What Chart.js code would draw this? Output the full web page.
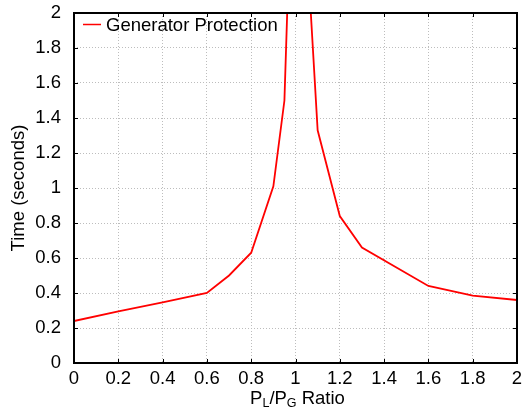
<!DOCTYPE html>
<html>
<head>
<meta charset="utf-8">
<script src="https://cdn.jsdelivr.net/npm/chart.js@4/dist/chart.umd.min.js"></script>
<style>
html,body{margin:0;padding:0;background:#fff;}
#wrap{width:524px;height:409px;position:relative;}
</style>
</head>
<body>
<div id="wrap"><canvas id="c" width="524" height="409"></canvas></div>
<script>
const ratioValues = [0, 0.2, 0.4, 0.6, 0.7, 0.8, 0.9, 0.95, 1.0, 1.1, 1.2, 1.3, 1.6, 1.8, 2.0];
const timeValues  = [0.24, 0.295, 0.347, 0.4, 0.5, 0.63, 1.01, 1.5, 3.5, 1.33, 0.84, 0.66, 0.44, 0.385, 0.36];
const seriesName = 'Generator Protection';
const xTickValues = [0, 0.2, 0.4, 0.6, 0.8, 1, 1.2, 1.4, 1.6, 1.8, 2];
const yTickValues = [0, 0.2, 0.4, 0.6, 0.8, 1, 1.2, 1.4, 1.6, 1.8, 2];
const yTitle = 'Time (seconds)';
const xTitleParts = [['P', false], ['L', true], ['/P', false], ['G', true], [' Ratio', false]];

const FONT = 'Arial, "Liberation Sans", sans-serif';
const FS = 18.5;

const points = ratioValues.map((x, i) => ({x: x, y: timeValues[i]}));

const framePlugin = {
  id: 'frame',
  afterDraw(chart) {
    const ctx = chart.ctx;
    const a = chart.chartArea;
    const xs = chart.scales.x, ys = chart.scales.y;
    ctx.save();
    // inward ticks
    ctx.strokeStyle = '#000';
    ctx.lineWidth = 1;
    ctx.beginPath();
    xTickValues.forEach(v => {
      const px = Math.round(xs.getPixelForValue(v)) + 0.5;
      ctx.moveTo(px, a.bottom); ctx.lineTo(px, a.bottom - 4);
      ctx.moveTo(px, a.top); ctx.lineTo(px, a.top + 4);
    });
    yTickValues.forEach(v => {
      const py = Math.round(ys.getPixelForValue(v)) + 0.5;
      ctx.moveTo(a.left, py); ctx.lineTo(a.left + 4, py);
      ctx.moveTo(a.right, py); ctx.lineTo(a.right - 4, py);
    });
    ctx.stroke();
    // frame
    ctx.lineWidth = 2;
    ctx.strokeRect(a.left, a.top, a.right - a.left, a.bottom - a.top);
    // legend
    ctx.strokeStyle = '#ff0000';
    ctx.lineWidth = 1.5;
    ctx.beginPath();
    ctx.moveTo(a.left + 9, a.top + 11.5);
    ctx.lineTo(a.left + 27, a.top + 11.5);
    ctx.stroke();
    ctx.fillStyle = '#000';
    ctx.font = FS + 'px ' + FONT;
    ctx.textBaseline = 'alphabetic';
    ctx.textAlign = 'left';
    ctx.fillText(seriesName, a.left + 32, a.top + 18);
    // x title with subscripts
    const big = FS + 'px ' + FONT, small = '12.5px ' + FONT;
    let total = 0;
    xTitleParts.forEach(([t, sub]) => { ctx.font = sub ? small : big; total += ctx.measureText(t).width; });
    let x = (a.left + a.right) / 2 - total / 2 + 2;
    const base = 404;
    xTitleParts.forEach(([t, sub]) => {
      ctx.font = sub ? small : big;
      ctx.fillText(t, x, sub ? base + 3 : base);
      x += ctx.measureText(t).width;
    });
    ctx.restore();
  }
};

new Chart(document.getElementById('c'), {
  type: 'line',
  data: {
    datasets: [{
      label: seriesName,
      data: points,
      borderColor: '#ff0000',
      backgroundColor: '#ff0000',
      borderWidth: 1.8,
      pointRadius: 0,
      tension: 0,
      fill: false
    }]
  },
  options: {
    responsive: false,
    animation: false,
    layout: {padding: {left: 0, right: 7, top: 13, bottom: 0}},
    plugins: {legend: {display: false}, tooltip: {enabled: false}},
    scales: {
      x: {
        type: 'linear', min: 0, max: 2,
        afterBuildTicks: s => { s.ticks = xTickValues.map(v => ({value: v})); },
        afterFit: s => { s.height = 46; s.paddingLeft = 0; s.paddingRight = 0; },
        grid: {color: '#bdbdbd', lineWidth: 1, drawTicks: false},
        border: {display: false, dash: [1, 2]},
        ticks: {
          padding: 5, color: '#000', font: {size: FS, family: FONT},
          maxRotation: 0, autoSkip: false,
          callback: v => String(Math.round(v * 10) / 10)
        }
      },
      y: {
        type: 'linear', min: 0, max: 2,
        afterBuildTicks: s => { s.ticks = yTickValues.map(v => ({value: v})); },
        afterFit: s => { s.width = 74; s.paddingTop = 0; s.paddingBottom = 0; },
        grid: {color: '#bdbdbd', lineWidth: 1, drawTicks: false},
        border: {display: false, dash: [1, 2]},
        ticks: {
          padding: 13, color: '#000', font: {size: FS, family: FONT},
          autoSkip: false,
          callback: v => String(Math.round(v * 10) / 10)
        },
        title: {display: true, text: yTitle, color: '#000', font: {size: FS, family: FONT}, padding: {top: 8, bottom: 0}}
      }
    }
  },
  plugins: [framePlugin]
});
</script>
</body>
</html>
